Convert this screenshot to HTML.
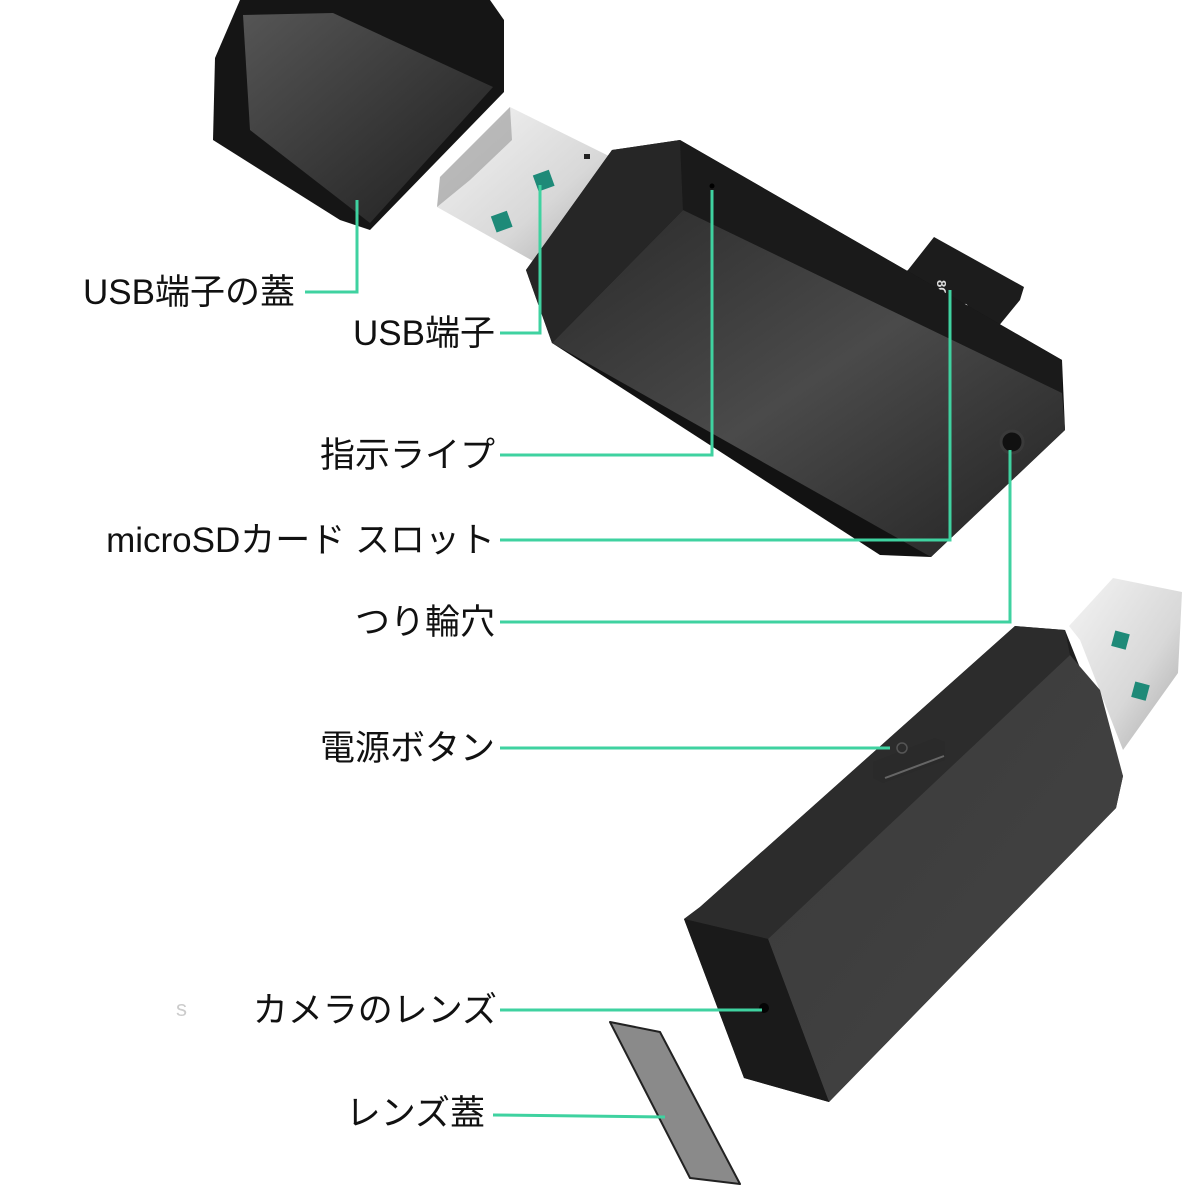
<!DOCTYPE html>
<html><head><meta charset="utf-8"><style>
html,body{margin:0;padding:0;background:#fff;}
body{width:1200px;height:1200px;overflow:hidden;position:relative;}
svg{position:absolute;left:0;top:0;}
.t{font-family:"Liberation Sans","Noto Sans CJK JP",sans-serif;font-size:35px;fill:#111;}
</style></head><body>
<svg width="1200" height="1200" viewBox="0 0 1200 1200">
<defs>
<linearGradient id="silver" x1="0" y1="0" x2="1" y2="1"><stop offset="0" stop-color="#f4f4f4"/><stop offset="0.6" stop-color="#d8d8d8"/><stop offset="1" stop-color="#a8a8a8"/></linearGradient>
<linearGradient id="capf" x1="0" y1="0" x2="1" y2="1"><stop offset="0" stop-color="#555"/><stop offset="1" stop-color="#1e1e1e"/></linearGradient>
<linearGradient id="face" x1="0" y1="0" x2="1" y2="1"><stop offset="0" stop-color="#2a2a2a"/><stop offset="0.5" stop-color="#4a4a4a"/><stop offset="1" stop-color="#222"/></linearGradient>
<linearGradient id="side2" x1="0" y1="0" x2="1" y2="1"><stop offset="0" stop-color="#3a3a3a"/><stop offset="1" stop-color="#444"/></linearGradient>
</defs>
<!-- cap -->
<polygon points="240,0 490,0 504,20 504,92 370,230 340,220 213,140 215,58" fill="#151515"/>
<polygon points="243,15 333,13 493,87 370,223 250,130" fill="url(#capf)"/>
<!-- upper usb plug -->
<polygon points="437,207 440,177 510,107 617,160 620,195 540,265" fill="url(#silver)"/>
<polygon points="437,207 440,177 510,107 512,140 470,180" fill="#888" opacity="0.5"/>
<rect x="535" y="172" width="17" height="17" fill="#1e8a78" transform="rotate(-20 544 180)"/>
<rect x="493" y="213" width="17" height="17" fill="#1e8a78" transform="rotate(-20 502 221)"/>
<rect x="584" y="154" width="6" height="5" fill="#222"/>
<!-- sd card -->
<polygon points="934,237 1024,287 1020,300 979,350 882,287 908,270" fill="#1c1c1c"/>
<text x="0" y="0" transform="translate(937,280) rotate(90)" font-family="Liberation Sans,sans-serif" font-size="13" font-weight="bold" fill="#ddd">8GB</text>
<text x="0" y="0" transform="translate(958,303) rotate(90)" font-family="Liberation Sans,sans-serif" font-size="15" font-weight="bold" fill="#ddd">SP</text>
<!-- upper body -->
<polygon points="612,150 680,140 1062,360 1065,430 931,557 880,555 552,343 526,270" fill="#121212"/>
<polygon points="680,140 1062,360 1062,393 683,210" fill="#1a1a1a"/>
<polygon points="683,210 1062,393 1065,430 931,557 552,343" fill="url(#face)"/>
<polygon points="612,150 680,140 683,210 552,343 526,270" fill="#262626"/>
<circle cx="1012" cy="442" r="11" fill="#111" stroke="#3a3a3a" stroke-width="3"/>
<circle cx="712" cy="186" r="2.5" fill="#000"/>
<!-- lower usb plug -->
<polygon points="1069,626 1113,578 1182,592 1178,673 1123,750 1080,640" fill="url(#silver)"/>
<rect x="1113" y="632" width="15" height="16" fill="#1e8a78" transform="rotate(15 1120 640)"/>
<rect x="1133" y="683" width="15" height="16" fill="#1e8a78" transform="rotate(15 1140 691)"/>
<!-- lower body -->
<polygon points="684,919 700,907 1015,626 1065,630 1123,776 1116,808 829,1102 744,1078" fill="#1e1e1e"/>
<polygon points="684,919 700,907 1015,626 1065,630 1070,655 768,939" fill="#2c2c2c"/>
<polygon points="768,939 1070,655 1100,690 1123,776 1116,808 829,1102" fill="url(#side2)"/>
<polygon points="684,919 768,939 829,1102 744,1078" fill="#1a1a1a"/>
<polygon points="873,762 935,738 945,742 945,760 883,783 873,778" fill="#2a2a2a"/>
<line x1="885" y1="778" x2="944" y2="756" stroke="#666" stroke-width="2"/>
<circle cx="902" cy="748" r="5" fill="none" stroke="#555" stroke-width="1.5"/>
<circle cx="764" cy="1008" r="5" fill="#050505"/>
<!-- lens cover -->
<polygon points="610,1022 660,1032 740,1184 690,1178" fill="#8a8a8a" stroke="#222" stroke-width="2" stroke-linejoin="round"/>
<!-- lines -->
<g stroke="#3fd2a0" stroke-width="3" fill="none">
<polyline points="305,292 357,292 357,200"/>
<polyline points="500,333 540,333 540,185"/>
<polyline points="500,455 712,455 712,190"/>
<polyline points="500,540 950,540 950,290"/>
<polyline points="500,622 1010,622 1010,450"/>
<polyline points="500,748 890,748"/>
<polyline points="500,1010 762,1010"/>
<polyline points="493,1115 665,1117"/>
</g>
<!-- labels -->
<g class="t" text-anchor="end">
<text x="295" y="304">USB端子の蓋</text>
<text x="495" y="345">USB端子</text>
<text x="495" y="467">指示ライプ</text>
<text x="495" y="552">microSDカード スロット</text>
<text x="495" y="634">つり輪穴</text>
<text x="495" y="760">電源ボタン</text>
<text x="497" y="1022">カメラのレンズ</text>
<text x="485" y="1125">レンズ蓋</text>
</g>
<text x="176" y="1016" font-family="Liberation Sans,sans-serif" font-size="22" fill="#ccc">s</text>
</svg>
</body></html>
